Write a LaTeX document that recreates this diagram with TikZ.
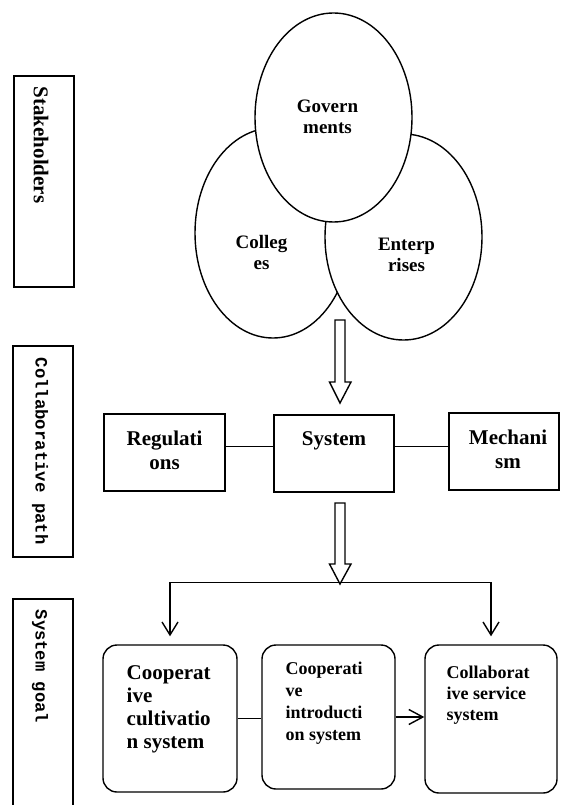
\documentclass[tikz,border=0pt]{standalone}
\usepackage{fontspec}
\setmainfont{Liberation Serif}
\setmonofont{Liberation Mono}
\usetikzlibrary{shapes.geometric,arrows.meta,calc}
\begin{document}
\begin{tikzpicture}[x=1pt,y=-1pt,line width=1.4pt,
  oval/.style={ellipse,draw,fill=white,inner sep=0pt},
  box/.style={draw,rectangle,inner sep=0pt},
  rbox/.style={draw,rectangle,rounded corners=14pt,inner sep=0pt},
  ovaltext/.style={inner sep=0pt,align=center,anchor=north,font=\bfseries\fontsize{19}{21}\selectfont},
  midtext/.style={inner sep=0pt,align=center,anchor=north,font=\bfseries\fontsize{21}{24}\selectfont},
  goaltext/.style={inner sep=0pt,align=left,anchor=north west},
  sidetext/.style={inner sep=0pt,rotate=-90,anchor=west},
  hollow/.style={draw,fill=white,line join=miter},
  barb/.style={-{Straight Barb[length=13pt,width=16pt]}},
  barbsmall/.style={-{Straight Barb[length=14pt,width=15pt]}}
]
\useasboundingbox (0,0) rectangle (561,805);

% side labels
\node[box,minimum width=60pt,minimum height=211pt] (sh) at (44,181.5) {};
\node[sidetext,font=\bfseries\fontsize{21}{24}\selectfont] (tsh) at (41,86) {Stakeholders};
\node[box,minimum width=60pt,minimum height=211pt] (cp) at (43,451.5) {};
\node[sidetext,font=\ttfamily\bfseries\fontsize{17.3}{20}\selectfont] (tcp) at (40,357) {Collaborative path};
\coordinate (sgtl) at (13,599);
\coordinate (sgtr) at (73,599);
\draw (sgtl |- 0,806) -- (sgtl) -- (sgtr) -- (sgtr |- 0,806);
\node[sidetext,font=\ttfamily\bfseries\fontsize{17.2}{20}\selectfont] (tsg) at (40,609) {System goal};

% stakeholders ellipses
\node[oval,minimum width=156pt,minimum height=210pt] (col) at (273,233) {};
\node[oval,minimum width=157pt,minimum height=206pt] (ent) at (403.5,237) {};
\node[oval,minimum width=157pt,minimum height=209pt] (gov) at (333.5,117.5) {};
\node[ovaltext] (tgov) at (327.5,99) {Govern\\ments};
\node[ovaltext] (tcol) at (261.5,235) {Colleg\\es};
\node[ovaltext] (tent) at (406.5,237.5) {Enterp\\rises};

% hollow arrow 1
\draw[hollow] (335,320) -- (345,320) -- (345,382) -- (351,382) -- (340,403)
  -- (329.5,382) -- (335,382) -- cycle;

% middle row
\node[box,minimum width=121pt,minimum height=77pt] (reg) at (164.5,452.5) {};
\node[box,minimum width=120pt,minimum height=77pt] (sys) at (334,453.5) {};
\node[box,minimum width=110pt,minimum height=77pt] (mech) at (504,451.5) {};
\node[midtext] (treg) at (164.5,430) {Regulati\\ons};
\node[midtext] (tsys) at (334,431) {System};
\node[midtext] (tmech) at (508,429) {Mechani\\sm};
\draw ([yshift=6pt]reg.east) -- ([yshift=6pt]reg.east -| sys.west);
\draw ([yshift=7pt]sys.east) -- ([yshift=7pt]sys.east -| mech.west);

% hollow arrow 2
\draw[hollow] (335,503) -- (345,503) -- (345,564) -- (351,564) -- (340,584)
  -- (329.5,564) -- (335,564) -- cycle;
\coordinate (split) at (340,582.5);

% bottom row
\node[rbox,minimum width=134pt,minimum height=147pt] (b1) at (170,718.5) {};
\node[rbox,minimum width=133pt,minimum height=144pt] (b2) at (328.5,717) {};
\node[rbox,minimum width=132pt,minimum height=148pt] (b3) at (491,719) {};
\node[goaltext,font=\bfseries\fontsize{21}{23}\selectfont] (tb1) at (126,665)
  {Cooperat\\ive\\cultivatio\\n system};
\node[goaltext,font=\bfseries\fontsize{18}{22}\selectfont] (tb2) at (285,661)
  {Cooperati\\ve\\introducti\\on system};
\node[goaltext,font=\bfseries\fontsize{18}{21}\selectfont] (tb3) at (446,665)
  {Collaborat\\ive service\\system};

\draw[barb,shorten >=8pt] (split) -| (b1.north);
\draw[barb,shorten >=8pt] (split) -| (b3.north);
\draw (b1.east) -- (b1.east -| b2.west);
\draw[barbsmall] (b2.east) -- (b2.east -| b3.west);
\end{tikzpicture}
\end{document}
